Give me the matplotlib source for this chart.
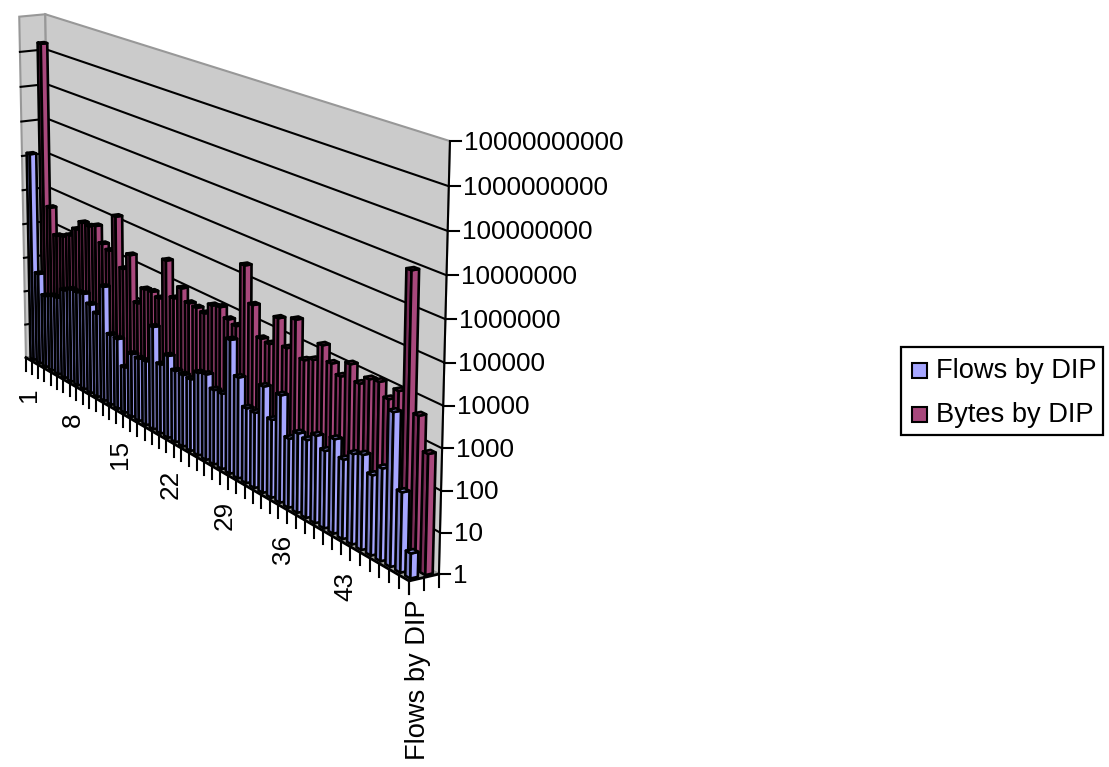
import numpy as np
import matplotlib
matplotlib.use('Agg')
import matplotlib.pyplot as plt
from matplotlib.collections import PolyCollection
from matplotlib.patches import Polygon, Rectangle

plt.rcParams['font.family'] = ['Liberation Sans', 'DejaVu Sans']

flows = [1250000, 467, 129, 162, 181, 371, 489, 512, 575, 354,
         245, 1775, 97, 95, 19, 58, 55, 60, 675, 80,
         177, 88, 88, 87, 166, 195, 97, 100, 3305, 446,
         91, 91, 561, 102, 561, 58, 104, 93, 158, 87,
         224, 93, 169, 214, 91, 177, 5120, 85, 4]
bytes_ = [1.7e9, 37200, 6760, 7940, 10500, 19100, 36000, 35000, 43900, 16600,
          13200, 146000, 6210, 18600, 1050, 3210, 3430, 2840, 38000, 4470,
          10400, 5190, 4930, 4370, 8910, 10200, 6100, 5160, 240000, 28800,
          4980, 4620, 26500, 5890, 38900, 4750, 6240, 18300, 8320, 5130,
          13100, 5690, 9380, 10500, 5220, 10600, 8790000, 4680, 776]
value_labels = ['1', '10', '100', '1000', '10000', '100000', '1000000',
                '10000000', '100000000', '1000000000', '10000000000']
category_labels = {1: '1', 8: '8', 15: '15', 22: '22', 29: '29', 36: '36', 43: '43'}
series_names = ['Flows by DIP', 'Bytes by DIP']

BLUE, BLUE_DARK, BLUE_TOP = '#a6a6ff', '#7c80c8', '#8e90e0'
RED, RED_DARK, RED_TOP = '#a8487c', '#7a2c58', '#8e3a6a'
DECADES = 10.0
N = len(flows)


def fit_camera():
    # box corners (along, depth, height) and where they land on the canvas
    world = [(0, 0, 0), (0, 0, 1), (0, 1, 1), (0, 1, 0), (1, 1, 0), (1, 1, 1), (1, 0, 0)]
    canvas = [(25, 358), (19.5, 17), (45, 14), (52, 353), (438, 575), (450, 141), (410, 580)]
    rows = []
    for (u, v, w), (x, y) in zip(world, canvas):
        rows.append([u, v, w, 1, 0, 0, 0, 0, -x * u, -x * v, -x * w, -x])
        rows.append([0, 0, 0, 0, u, v, w, 1, -y * u, -y * v, -y * w, -y])
    return np.linalg.svd(np.array(rows))[2][-1].reshape(3, 4)


camera = fit_camera()


def project(u, v, w):
    p = camera @ np.array([u, v, w, 1.0])
    return p[0] / p[2], p[1] / p[2]


def bar_faces(cat, series, value):
    u0 = (cat + 0.25) / N
    u1 = (cat + 0.75) / N
    v0 = (series + 0.25) / 2
    v1 = (series + 0.75) / 2
    w = np.log10(value) / DECADES
    front = [project(u0, v0, 0), project(u1, v0, 0), project(u1, v0, w), project(u0, v0, w)]
    side = [project(u1, v0, 0), project(u1, v1, 0), project(u1, v1, w), project(u1, v0, w)]
    top = [project(u0, v0, w), project(u1, v0, w), project(u1, v1, w), project(u0, v1, w)]
    return front, side, top


fig = plt.figure(figsize=(11.09, 7.67), dpi=100)
ax = fig.add_axes([0, 0, 1, 1])
ax.set_xlim(0, 1109)
ax.set_ylim(767, 0)
ax.axis('off')

# walls and floor
wall = '#cbcbcb'
edge = '#989898'
left_wall = [project(0, 0, 0), project(0, 0, 1), project(0, 1, 1), project(0, 1, 0)]
back_wall = [project(0, 1, 0), project(0, 1, 1), project(1, 1, 1), project(1, 1, 0)]
floor = [project(0, 0, 0), project(1, 0, 0), project(1, 1, 0), project(0, 1, 0)]
ax.add_patch(Polygon(left_wall, fc=wall, ec=edge, lw=1.5))
ax.add_patch(Polygon(back_wall, fc=wall, ec=edge, lw=1.5))
ax.add_patch(Polygon(floor, fc='#a4a4a4', ec=edge, lw=1.0))

# gridlines, one per decade
for k in range(1, 10):
    w = k / DECADES
    pts = np.array([project(0, 0, w), project(0, 1, w), project(1, 1, w)])
    ax.plot(pts[:, 0], pts[:, 1], color='black', lw=1.5)

# axis lines
pts = np.array([project(1, 1, 0), project(1, 1, 1)])
ax.plot(pts[:, 0], pts[:, 1], color='black', lw=1.5)
pts = np.array([project(0, 0, 0), project(1, 0, 0), project(1, 1, 0)])
ax.plot(pts[:, 0], pts[:, 1], color='black', lw=2.0)

# bars, far series first and left to right so nearer ones overlap
for series, values, cols in [(1, bytes_, (RED_DARK, RED, RED_TOP)),
                             (0, flows, (BLUE_DARK, BLUE, BLUE_TOP))]:
    polys = []
    faces = []
    for cat, val in enumerate(values):
        front, side, top = bar_faces(cat, series, val)
        polys += [front, side, top]
        faces += list(cols)
    ax.add_collection(PolyCollection(polys, facecolors=faces, edgecolors='black',
                                     linewidths=1.9, zorder=3))

# value axis ticks and labels
for k, label in enumerate(value_labels):
    x, y = project(1, 1, k / DECADES)
    ax.plot([x, x + 11], [y, y], color='black', lw=1.5, zorder=4)
    ax.text(x + 14, y + 1.5, label, ha='left', va='center', fontsize=18.85)

# category ticks and labels
for k in range(N + 1):
    x, y = project(k / N, 0, 0)
    ax.plot([x, x], [y, y + 13], color='black', lw=1.5, zorder=4)
for cat, label in category_labels.items():
    x, y = project((cat - 0.5) / N, 0, 0)
    ax.text(x, y + 28, label, rotation=90, ha='center', va='top', fontsize=18.85)

# series axis
for k in range(3):
    x, y = project(1, k / 2, 0)
    ax.plot([x, x], [y, y + 13], color='black', lw=1.5, zorder=4)
x, y = project(1, 0.25, 0)
ax.text(x + 1, y + 20, series_names[0], rotation=90, ha='center', va='top', fontsize=19.6)

# legend
ax.add_patch(Rectangle((901, 347), 202, 88, fc='white', ec='black', lw=1.6))
for name, col, y in zip(series_names, [BLUE, RED], [370.5, 414.5]):
    ax.add_patch(Rectangle((911.5, y - 7.5), 15, 15, fc=col, ec='black', lw=1.5))
    ax.text(936, y + 0.5, name, ha='left', va='center', fontsize=19.6)

fig.savefig('out.png', dpi=100)
